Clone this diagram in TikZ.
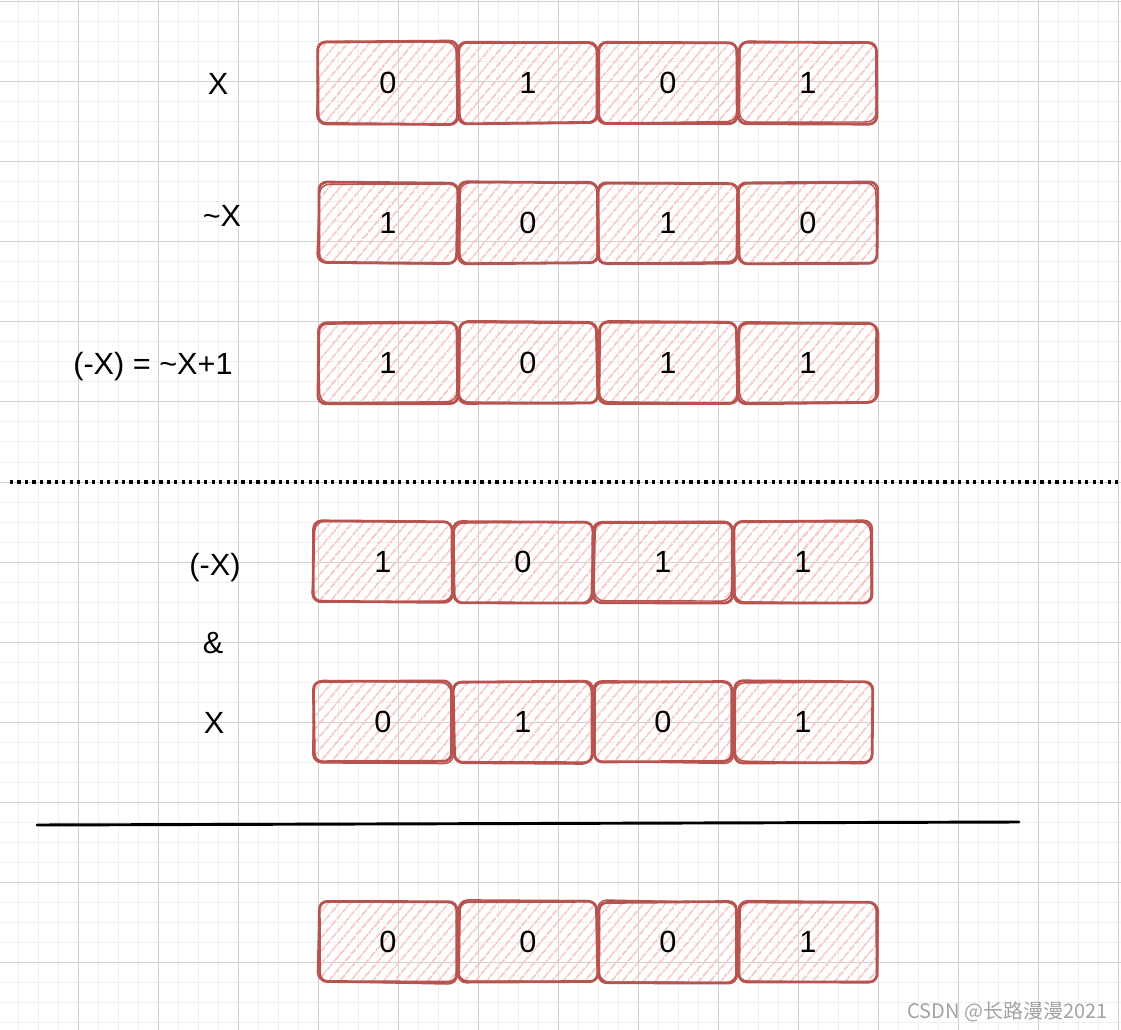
\documentclass[tikz,border=0pt]{standalone}
\usepackage{fontspec}
\setmainfont{Liberation Sans}
\newfontfamily\cjkwm{Noto Sans CJK SC}
\usetikzlibrary{patterns.meta,calc}
\definecolor{skred}{HTML}{B85450}
\definecolor{hatch}{HTML}{F7CAC8}
\definecolor{gmaj}{HTML}{D0D0D0}
\definecolor{gmin}{HTML}{EFEFEF}
\definecolor{wmgray}{HTML}{A3A3A3}
\tikzset{
  cell/.style={minimum width=103.5pt, minimum height=60pt, inner sep=0pt,
    rounded corners=7pt,
    pattern={Lines[angle=50,distance=6.5pt,line width=1.5pt]}, pattern color=hatch,
    font=\fontsize{23}{26}\selectfont},
  skline/.style={draw=skred, line width=2.1pt, rounded corners=6pt, line join=round, line cap=round},
  skthin/.style={draw=skred, line width=1.1pt, rounded corners=7pt, line join=round, line cap=round},
  lbl/.style={font=\fontsize{23}{26}\selectfont, inner sep=0pt, anchor=base},
  minorgrid/.style={draw=gmin, line width=0.75pt},
  majorgrid/.style={draw=gmaj, line width=0.75pt},
}
\newcommand\skcell[4]{%
  \node[cell] (#1) at (#2,#3) {#4};
  \pgfmathsetmacro\ra{rnd*2-1}\pgfmathsetmacro\rb{rnd*2-1}%
  \pgfmathsetmacro\rc{rnd*2-1}\pgfmathsetmacro\rd{rnd*2-1}%
  \pgfmathsetmacro\re{rnd*2-1}\pgfmathsetmacro\rf{rnd*2-1}%
  \pgfmathsetmacro\rg{rnd*2-1}\pgfmathsetmacro\rh{rnd*2-1}%
  \draw[skline] ($(#1.north west)+(\ra,\rb)$) -- ($(#1.north east)+(\rc,\rd)$)
    -- ($(#1.south east)+(\re,\rf)$) -- ($(#1.south west)+(\rg,\rh)$) -- cycle;
  \draw[skthin] ($(#1.north west)+(-1.5*\rb,2*\rc)$) -- ($(#1.north east)+(2*\rd,-1.5*\re)$)
    -- ($(#1.south east)+(-1.5*\rf,2*\rg)$) -- ($(#1.south west)+(2*\rh,-1.5*\ra)$) -- cycle;
}
\begin{document}
\begin{tikzpicture}[x=0.75pt,y=-0.75pt]
\pgfmathsetseed{4242}
\useasboundingbox (0,0) rectangle (1121,1030);
\fill[white] (0,0) rectangle (1121,1030);
% grid
\foreach \gx in {-2,18,...,1122} \draw[minorgrid] (\gx,0) -- (\gx,1030);
\foreach \gy in {2,22,...,1030} \draw[minorgrid] (0,\gy) -- (1121,\gy);
\foreach \gx in {78,158,...,1121} \draw[majorgrid] (\gx,0) -- (\gx,1030);
\foreach \gy in {2,82,...,1030} \draw[majorgrid] (0,\gy) -- (1121,\gy);

% labels
\node[lbl] (lX1) at (218,94.5) {X};
\node[lbl] (lnX) at (222,227) {\textasciitilde X};
\node[lbl] (lneg) at (153,375) {(-X) = \textasciitilde X+1};
\node[lbl] (lneg2) at (215,575) {(-X)};
\node[lbl] (land) at (213,653) {\&};
\node[lbl] (lX2) at (214,733) {X};

% row 1: X
\skcell{a1}{388}{83}{0}
\skcell{a2}{528}{83}{1}
\skcell{a3}{668}{83}{0}
\skcell{a4}{808}{83}{1}
% row 2: ~X
\skcell{b1}{388}{223}{1}
\skcell{b2}{528}{223}{0}
\skcell{b3}{668}{223}{1}
\skcell{b4}{808}{223}{0}
% row 3: -X
\skcell{c1}{388}{363}{1}
\skcell{c2}{528}{363}{0}
\skcell{c3}{668}{363}{1}
\skcell{c4}{808}{363}{1}

% dotted separator
\coordinate (d1) at (10,482);
\coordinate (d2) at (1121,482);
\draw[line width=2.4pt, dash pattern=on 2.4pt off 3.2pt] (d1) -- (d2);

% row 4: (-X)
\skcell{e1}{383}{562}{1}
\skcell{e2}{523}{562}{0}
\skcell{e3}{663}{562}{1}
\skcell{e4}{803}{562}{1}
% row 5: X
\skcell{f1}{383}{722}{0}
\skcell{f2}{523}{722}{1}
\skcell{f3}{663}{722}{0}
\skcell{f4}{803}{722}{1}

% result line
\coordinate (s1) at (37,825);
\coordinate (s2) at (1019,822);
\draw[line width=2.2pt, line cap=round] (s1) -- (s2);

% row 6: result
\skcell{g1}{388}{942}{0}
\skcell{g2}{528}{942}{0}
\skcell{g3}{668}{942}{0}
\skcell{g4}{808}{942}{1}

% watermark
\node[anchor=base west, inner sep=0pt, text=wmgray, font=\cjkwm\fontsize{15}{18}\selectfont] (wm) at (907,1018) {CSDN @长路漫漫2021};
\end{tikzpicture}
\end{document}
